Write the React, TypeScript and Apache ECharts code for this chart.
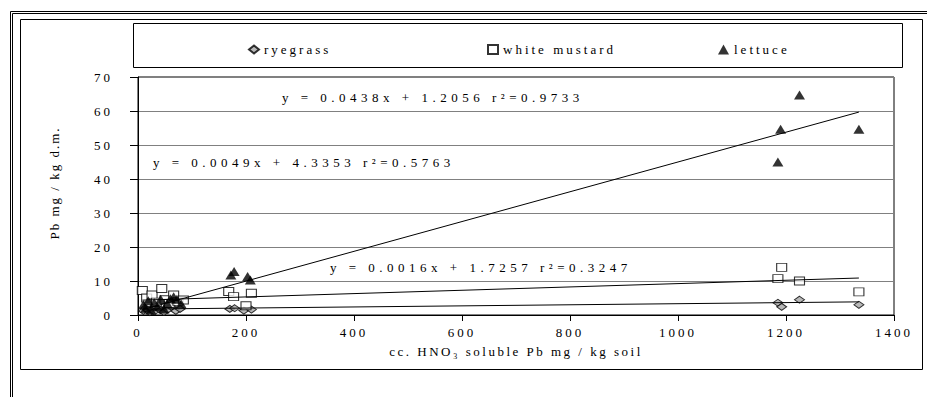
import React, { useEffect, useRef } from "react";
import * as echarts from "echarts";

// ---- data ----
const seriesNames = ["ryegrass", "white mustard", "lettuce"];

const ryegrassX = [10, 14, 18, 22, 26, 30, 36, 42, 48, 55, 62, 70, 78, 170, 179, 196, 210, 1185, 1192, 1225, 1335];
const ryegrassY = [1.2, 2.0, 1.5, 0.8, 1.8, 1.0, 2.2, 1.4, 0.9, 1.6, 2.4, 1.2, 1.8, 1.8, 2.0, 1.3, 1.6, 3.6, 2.4, 4.5, 3.0];

const mustardX = [8, 16, 26, 34, 44, 50, 58, 66, 74, 84, 168, 177, 200, 210, 1185, 1192, 1225, 1335];
const mustardY = [7.2, 5.0, 5.9, 3.8, 7.8, 4.5, 3.4, 5.9, 4.0, 4.4, 6.9, 5.4, 2.7, 6.4, 10.7, 14.0, 10.0, 6.8];

const lettuceX = [10, 14, 19, 24, 30, 36, 42, 48, 54, 60, 66, 72, 80, 172, 178, 203, 208, 1185, 1190, 1225, 1335];
const lettuceY = [3.0, 2.0, 4.2, 1.5, 3.6, 2.4, 4.6, 1.8, 3.4, 4.8, 5.4, 4.6, 3.2, 11.8, 12.8, 11.3, 10.3, 45.0, 54.6, 64.7, 54.6];

const trendSlope = [0.0016, 0.0049, 0.0438];
const trendIntercept = [1.7257, 4.3353, 1.2056];
const trendR2 = [0.3247, 0.5763, 0.9733];

const xAxisTitle = "cc. HNO₃ soluble Pb mg / kg soil";
const yAxisTitle = "Pb mg / kg d.m.";

const FONT = "'Liberation Serif', 'Times New Roman', serif";

const pairs = (xs: number[], ys: number[]) => xs.map((x, i) => [x, ys[i]]);
const trend = (xs: number[], k: number) => {
  const lo = Math.min(...xs);
  const hi = Math.max(...xs);
  return [
    [lo, trendSlope[k] * lo + trendIntercept[k]],
    [hi, trendSlope[k] * hi + trendIntercept[k]],
  ];
};
const eqText = (k: number) =>
  `y = ${trendSlope[k].toFixed(4)}x + ${trendIntercept[k].toFixed(4)} r²=${trendR2[k].toFixed(4)}`;

export default function App() {
  const ref = useRef<HTMLDivElement | null>(null);

  useEffect(() => {
    document.body.style.margin = "0";
    const el = ref.current;
    if (!el) return;
    const chart = echarts.init(el, null, { renderer: "svg" });

    const legendBase = {
      top: 38,
      itemGap: 0,
      textStyle: { fontFamily: FONT, fontSize: 13, color: "#000" },
      selectedMode: false,
    };

    const option: any = {
      animation: false,
      backgroundColor: "#fff",
      textStyle: { fontFamily: FONT },
      grid: {
        left: 138,
        right: 33,
        top: 77,
        bottom: 82,
        show: true,
        borderColor: "#000",
        borderWidth: 1,
        backgroundColor: "transparent",
      },
      legend: [
        { ...legendBase, left: 243, data: [seriesNames[0]], itemWidth: 10, itemHeight: 8 },
        { ...legendBase, left: 482, data: [seriesNames[1]], itemWidth: 10, itemHeight: 9 },
        { ...legendBase, left: 713, data: [seriesNames[2]], itemWidth: 11, itemHeight: 10 },
      ],
      xAxis: {
        type: "value",
        min: 0,
        max: 1400,
        interval: 200,
        name: xAxisTitle,
        nameLocation: "middle",
        nameGap: 30,
        nameTextStyle: { fontFamily: FONT, fontSize: 13, color: "#000" },
        axisLine: { show: true, lineStyle: { color: "#000", width: 1 } },
        axisTick: { show: true, length: 6, lineStyle: { color: "#000" } },
        axisLabel: {
          fontFamily: FONT,
          fontSize: 13,
          color: "#000",
          margin: 11,
          formatter: (v: number) => String(v),
        },
        splitLine: { show: false },
      },
      yAxis: {
        type: "value",
        min: 0,
        max: 70,
        interval: 10,
        axisLine: { show: true, lineStyle: { color: "#000", width: 1 } },
        axisTick: { show: true, length: 8, lineStyle: { color: "#000" } },
        axisLabel: {
          fontFamily: FONT,
          fontSize: 13,
          color: "#000",
          margin: 25,
          formatter: (v: number) => String(v),
        },
        splitLine: { show: true, lineStyle: { color: "#808080", width: 1 } },
      },
      series: [
        {
          name: seriesNames[0],
          type: "scatter",
          symbol: "diamond",
          symbolSize: [10, 7],
          itemStyle: { color: "#a6a6a6", borderColor: "#000", borderWidth: 1 },
          data: pairs(ryegrassX, ryegrassY),
          z: 3,
        },
        {
          name: seriesNames[1],
          type: "scatter",
          symbol: "rect",
          symbolSize: [10, 8],
          itemStyle: { color: "#fff", borderColor: "#000", borderWidth: 1 },
          data: pairs(mustardX, mustardY),
          z: 4,
        },
        {
          name: seriesNames[2],
          type: "scatter",
          symbol: "triangle",
          symbolSize: [11, 9],
          itemStyle: { color: "#000" },
          data: pairs(lettuceX, lettuceY),
          z: 5,
        },
        ...[0, 1, 2].map((k) => ({
          name: "trend" + k,
          type: "line",
          showSymbol: false,
          symbol: "none",
          silent: true,
          lineStyle: { color: "#000", width: 1 },
          data: trend([ryegrassX, mustardX, lettuceX][k], k),
          z: 6,
        })),
      ],
      graphic: [
        { type: "rect", silent: true, shape: { x: 10.5, y: 11.5, width: 960, height: 420 }, style: { fill: "none", stroke: "#000", lineWidth: 1 } },
        { type: "rect", silent: true, shape: { x: 12.5, y: 13.5, width: 960, height: 420 }, style: { fill: "none", stroke: "#000", lineWidth: 1 } },
        { type: "rect", silent: true, shape: { x: 20.5, y: 19.5, width: 902, height: 350 }, style: { fill: "none", stroke: "#000", lineWidth: 1 } },
        { type: "rect", silent: true, shape: { x: 133.5, y: 23.5, width: 769, height: 44 }, style: { fill: "none", stroke: "#000", lineWidth: 1 } },
        {
          type: "text", silent: true, x: 282, y: 97,
          style: { text: eqText(2), fontFamily: FONT, fontSize: 13, fill: "#000", textAlign: "left", textVerticalAlign: "middle" },
        },
        {
          type: "text", silent: true, x: 153, y: 162,
          style: { text: eqText(1), fontFamily: FONT, fontSize: 13, fill: "#000", textAlign: "left", textVerticalAlign: "middle" },
        },
        {
          type: "text", silent: true, x: 330, y: 267,
          style: { text: eqText(0), fontFamily: FONT, fontSize: 13, fill: "#000", textAlign: "left", textVerticalAlign: "middle" },
        },
        {
          type: "text", silent: true, x: 54, y: 183, rotation: Math.PI / 2,
          style: { text: yAxisTitle, fontFamily: FONT, fontSize: 13, fill: "#000", textAlign: "center", textVerticalAlign: "middle" },
        },
      ],
    };

    const applySpacing = () => {
      const root = ref.current;
      if (!root) return;
      root.querySelectorAll("text").forEach((t) => {
        const s = t.textContent || "";
        let ls = 3;
        if (s.startsWith("y =")) ls = 4.5;
        else if (s.startsWith("Pb mg")) ls = 2;
        else if (s.startsWith("cc.")) ls = 2.5;
        t.setAttribute("letter-spacing", String(ls));
      });
    };

    chart.on("finished", applySpacing);
    chart.setOption(option);
    applySpacing();
    const tm = setTimeout(applySpacing, 50);

    return () => {
      clearTimeout(tm);
      chart.dispose();
    };
  }, []);

  return <div ref={ref} style={{ width: 927, height: 397, position: "absolute", left: 0, top: 0 }} />;
}
